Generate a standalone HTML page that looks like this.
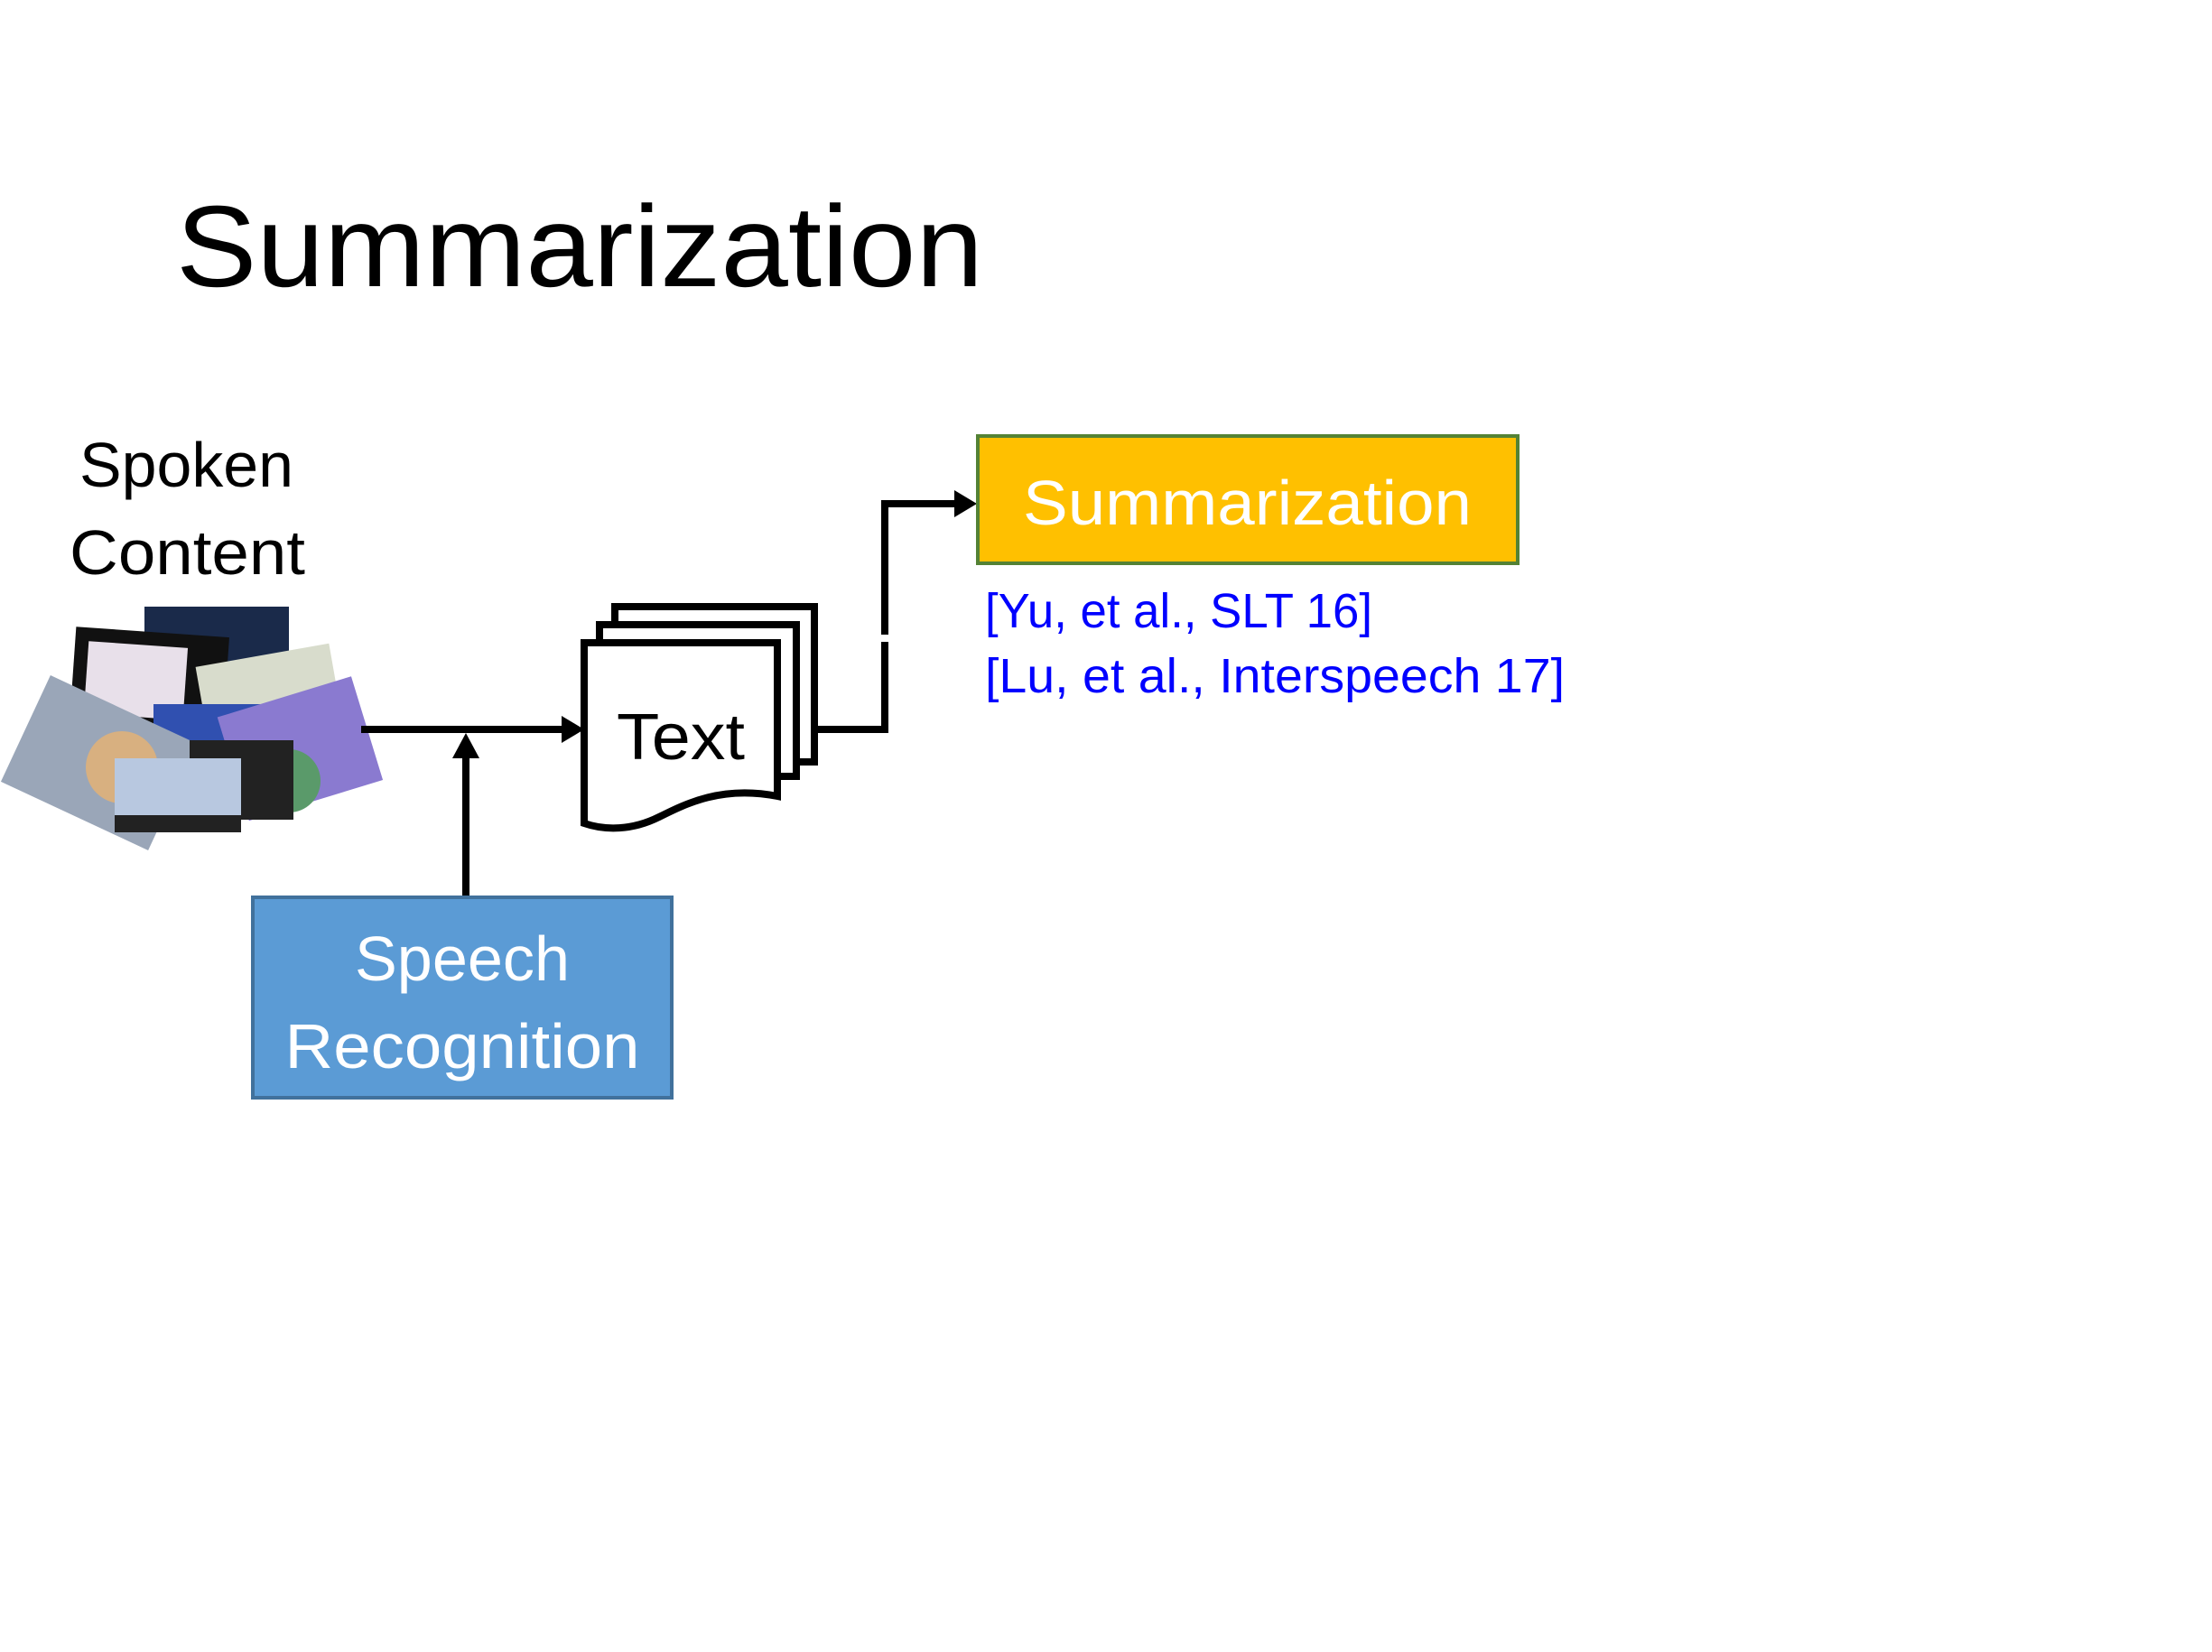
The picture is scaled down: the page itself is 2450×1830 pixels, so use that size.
<!DOCTYPE html>
<html><head><meta charset="utf-8"><style>html,body{margin:0;padding:0;background:#fff}svg{display:block}</style></head>
<body>
<svg width="2450" height="1830" viewBox="0 0 2450 1830" xmlns="http://www.w3.org/2000/svg" font-family="Liberation Sans, sans-serif">
<rect width="2450" height="1830" fill="#fff"/>
<text x="195" y="317" font-size="128" textLength="894" lengthAdjust="spacingAndGlyphs" fill="#000">Summarization</text>
<text x="88" y="539" font-size="70" textLength="237" lengthAdjust="spacingAndGlyphs">Spoken</text>
<text x="77" y="636" font-size="70" textLength="261" lengthAdjust="spacingAndGlyphs">Content</text>
<!-- image collage -->
<g>
<rect x="160" y="672" width="160" height="130" fill="#1a2a4a"/>
<rect x="80" y="700" width="170" height="120" fill="#111" transform="rotate(4 165 760)"/>
<rect x="95" y="715" width="110" height="80" fill="#e8e0ea" transform="rotate(4 165 760)"/>
<rect x="225" y="725" width="150" height="110" fill="#d8dccc" transform="rotate(-10 300 780)"/>
<rect x="170" y="780" width="120" height="90" fill="#3050b0"/>
<rect x="20" y="780" width="180" height="130" fill="#9aa6b8" transform="rotate(25 110 845)"/>
<circle cx="135" cy="850" r="40" fill="#d8b080"/>
<rect x="255" y="770" width="155" height="120" fill="#8a7ad0" transform="rotate(-17 330 830)"/>
<circle cx="320" cy="865" r="35" fill="#5a9a6a"/>
<rect x="210" y="820" width="115" height="88" fill="#222"/>
<rect x="127" y="840" width="140" height="82" fill="#b8c8e0"/>
<rect x="127" y="903" width="140" height="19" fill="#222"/>
</g>
<!-- arrows left -->
<g stroke="#000" stroke-width="8" fill="none">
<line x1="400" y1="808" x2="630" y2="808"/>
<line x1="516" y1="992" x2="516" y2="835"/>
<polyline points="902,808 980,808 980,711"/>
<polyline points="980,703 980,558 1060,558"/>
</g>
<polygon points="647,808 622,793 622,823" fill="#000"/>
<polygon points="516,812 501,840 531,840" fill="#000"/>
<polygon points="1082,558 1057,543 1057,573" fill="#000"/>
<!-- document stack -->
<g stroke="#000" stroke-width="8" fill="#fff">
<path d="M681,672 H902 V844 H681 Z"/>
<path d="M664,692 H882 V860 H664 Z"/>
<path d="M647,712 H861 V882 C800,870 760,890 730,905 C700,920 670,920 647,912 Z"/>
</g>
<text x="683" y="841" font-size="72" textLength="142" lengthAdjust="spacingAndGlyphs">Text</text>
<!-- speech recognition -->
<rect x="280" y="994" width="464" height="222" fill="#5b9bd5" stroke="#41719c" stroke-width="4"/>
<text x="512" y="1086" font-size="70" fill="#fff" text-anchor="middle" textLength="238" lengthAdjust="spacingAndGlyphs">Speech</text>
<text x="512" y="1183" font-size="70" fill="#fff" text-anchor="middle" textLength="393" lengthAdjust="spacingAndGlyphs">Recognition</text>
<!-- summarization box -->
<rect x="1083" y="483" width="598" height="141" fill="#ffc000" stroke="#548235" stroke-width="4"/>
<text x="1133" y="581" font-size="70" fill="#fff" textLength="497" lengthAdjust="spacingAndGlyphs">Summarization</text>
<text x="1091" y="695" font-size="54" fill="#0000ff" textLength="429" lengthAdjust="spacingAndGlyphs">[Yu, et al., SLT 16]</text>
<text x="1091" y="767" font-size="54" fill="#0000ff" textLength="642" lengthAdjust="spacingAndGlyphs">[Lu, et al., Interspeech 17]</text>
</svg>
</body></html>
